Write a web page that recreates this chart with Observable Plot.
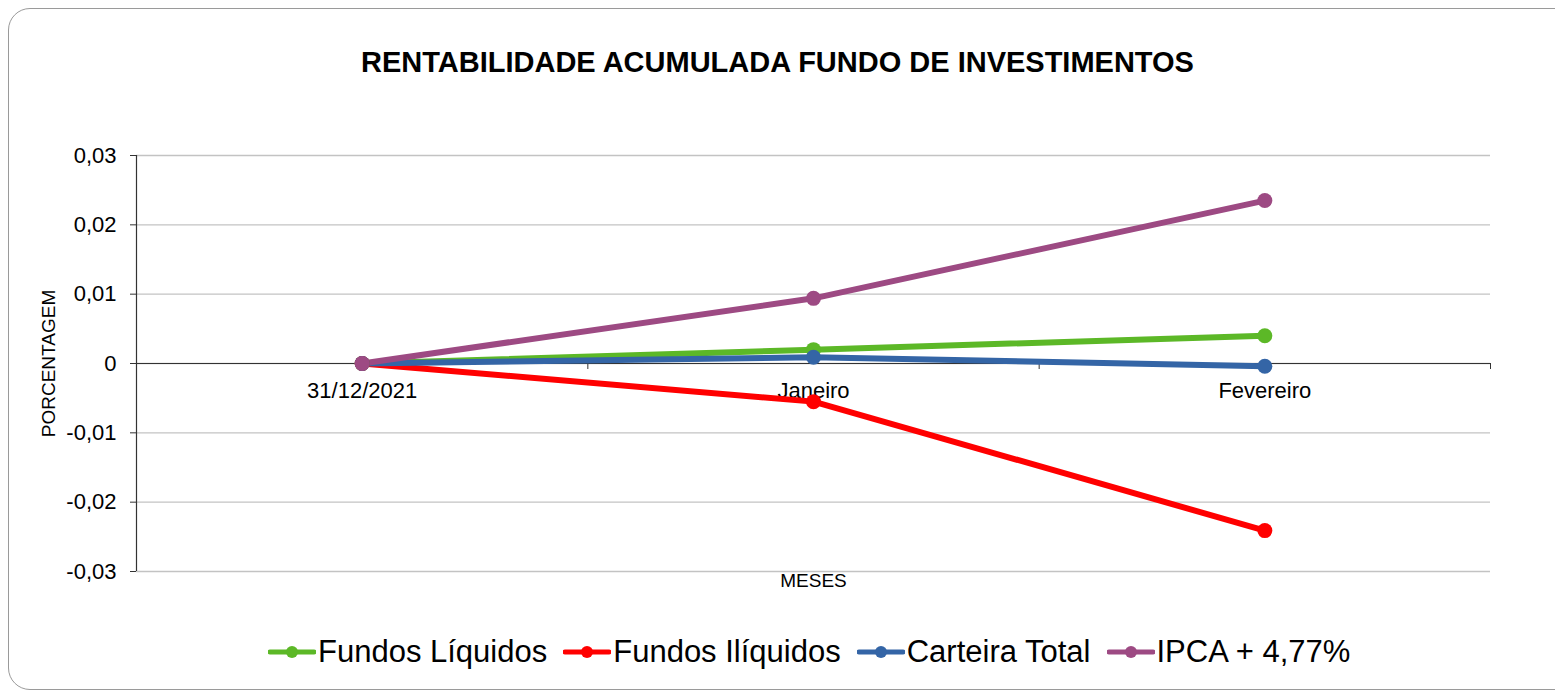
<!DOCTYPE html>
<html><head><meta charset="utf-8">
<script src="https://cdn.jsdelivr.net/npm/d3@7"></script>
<script src="https://cdn.jsdelivr.net/npm/@observablehq/plot@0.6"></script>
<style>
body{margin:0;background:#fff;font-family:"Liberation Sans",Arial,sans-serif;}
#wrap{position:relative;width:1555px;height:694px;overflow:hidden;}
#border{position:absolute;left:8px;top:8px;width:1600px;height:682px;border:1px solid #9a9a9a;border-radius:22px;box-sizing:border-box;pointer-events:none}
#title{height:100px;box-sizing:border-box;padding-top:46px;line-height:32px;font-size:29px;font-weight:bold;text-align:center;color:#000;}
#chart{height:510px;}
#chart svg{display:block;}
#legend{height:84px;box-sizing:border-box;padding-top:0;padding-left:268px;display:flex;align-items:center;line-height:34px;font-size:31px;color:#000;}
.item{display:flex;align-items:center;margin-right:16px;}
.item svg{margin-right:2px;}
</style>
</head><body>
<div id="wrap">
<div id="border"></div>
<div id="title">RENTABILIDADE ACUMULADA FUNDO DE INVESTIMENTOS</div>
<div id="chart"></div>
<div id="legend"></div>
</div>
<script>
const categories = ["31/12/2021", "Janeiro", "Fevereiro"];
const seriesNames = ["Fundos Líquidos", "Fundos Ilíquidos", "Carteira Total", "IPCA + 4,77%"];
const fundosLiquidos = [0, 0.0020, 0.0040];
const fundosIliquidos = [0, -0.0055, -0.0241];
const carteiraTotal = [0, 0.0009, -0.0004];
const ipca = [0, 0.0094, 0.0235];
const yTicks = [-0.03, -0.02, -0.01, 0, 0.01, 0.02, 0.03];
const colors = ["#5cb827", "#ff0000", "#3465a6", "#9d4a83"];

const seriesValues = [fundosLiquidos, fundosIliquidos, carteiraTotal, ipca];
const rows = [];
seriesValues.forEach((vals, s) => vals.forEach((v, i) => rows.push({series: seriesNames[s], i, v})));
const catRows = categories.map((c, i) => ({c, i}));
const boundaries = categories.map((c, i) => i + 0.5);

const fmt = d => d === 0 ? "0" : d.toFixed(2).replace(".", ",");

const plot = Plot.plot({
  width: 1555,
  height: 510,
  marginTop: 55,
  marginBottom: 39,
  marginLeft: 136,
  marginRight: 65,
  style: {fontFamily: '"Liberation Sans", Arial, sans-serif', background: "transparent"},
  x: {domain: [-0.5, categories.length - 0.5], axis: null},
  y: {domain: [-0.03, 0.03]},
  color: {domain: seriesNames, range: colors},
  marks: [
    Plot.gridY(yTicks, {stroke: "#c3c3c3", strokeOpacity: 1, strokeWidth: 1.3}),
    Plot.axisY(yTicks, {tickFormat: fmt, tickSize: 6, tickPadding: 14, fontSize: 22, stroke: "#333", color: "#000", label: null}),
    Plot.ruleX([-0.5], {stroke: "#333", strokeWidth: 1.2}),
    Plot.ruleY([0], {stroke: "#333", strokeWidth: 1.2}),
    Plot.ruleX(boundaries, {x: d => d, y1: 0, y2: 0, insetBottom: -6, stroke: "#333"}),
    Plot.text(catRows, {x: "i", y: () => 0, text: "c", dy: 27, fontSize: 22, fill: "#000"}),
    Plot.text(["MESES"], {frameAnchor: "bottom", dy: 15, fontSize: 19, fill: "#000"}),
    Plot.text(["PORCENTAGEM"], {frameAnchor: "left", textAnchor: "middle", dx: -88, rotate: -90, fontSize: 19, fill: "#000"}),
    Plot.line(rows, {x: "i", y: "v", z: "series", stroke: "series", strokeWidth: 6, strokeLinecap: "round"}),
    Plot.dot(rows, {x: "i", y: "v", fill: "series", r: 7.5})
  ]
});
document.getElementById("chart").appendChild(plot);

const legend = document.getElementById("legend");
seriesNames.forEach((name, s) => {
  const item = document.createElement("div");
  item.className = "item";
  item.innerHTML = `<svg width="48" height="16"><line x1="2" y1="8" x2="46" y2="8" stroke="${colors[s]}" stroke-width="5" stroke-linecap="round"/><circle cx="24" cy="8" r="6" fill="${colors[s]}"/></svg><span>${name}</span>`;
  legend.appendChild(item);
});
</script>
</body></html>
